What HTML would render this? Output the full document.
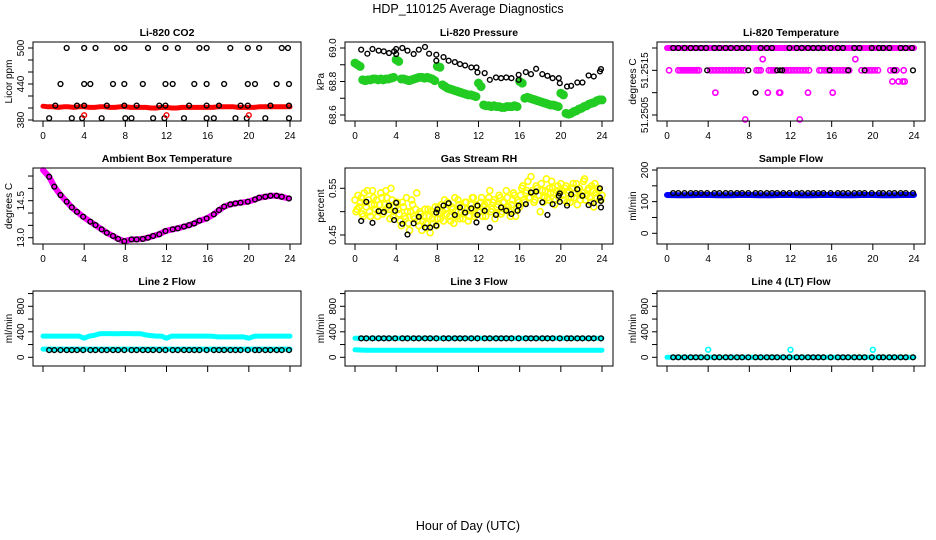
<!DOCTYPE html>
<html><head><meta charset="utf-8"><style>
body{margin:0;background:#fff}
svg{display:block;font-family:"Liberation Sans",Arial,sans-serif}
</style></head><body>
<svg id="c" width="936" height="540" viewBox="0 0 936 540">
<text x="468" y="13" text-anchor="middle" font-size="12.5">HDP_110125  Average Diagnostics</text>
<text x="468" y="530" text-anchor="middle" font-size="12.5">Hour of Day (UTC)</text>
</svg>
<script>
// ---------- data ----------
const blackHours=[0.6,1.1,1.7,2.3,2.8,3.3,3.9,4.6,5.1,5.7,6.2,6.8,7.3,7.9,8.6,9.1,9.7,10.2,10.7,11.3,11.9,12.6,13.1,13.7,14.2,14.7,15.2,15.9,16.6,17.1,17.6,18.2,18.7,19.2,19.9,20.6,21.0,21.6,22.1,22.7,23.2,23.9];
const hourlyHours=[0,1,2,3,4,5,6,7,8,9,10,11,12,13,14,15,16,17,18,19,20,21,22,23,24];
const halfHours=[0,0.5,1,1.5,2,2.5,3,3.5,4,4.5,5,5.5,6,6.5,7,7.5,8,8.5,9,9.5,10,10.5,11,11.5,12,12.5,13,13.5,14,14.5,15,15.5,16,16.5,17,17.5,18,18.5,19,19.5,20,20.5,21,21.5,22,22.5,23,23.5,24];

// CO2
const co2BlkHours=[2.3,4.0,5.1,7.2,7.9,10.2,11.9,13.1,15.2,15.9,18.2,19.9,21.0,23.2,23.8, 1.7,4.0,4.6,6.8,7.9,9.7,11.9,12.6,14.7,15.9,17.6,19.9,20.6,22.7,23.9, 1.2,3.3,4.0,6.2,7.9,9.1,11.3,11.9,14.2,15.9,17.1,19.2,19.9,22.1,23.9, 0.6,2.8,3.8,5.7,8.0,8.6,10.7,11.8,13.7,15.9,16.6,18.7,19.8,21.6,23.9];
const co2BlkVals=[500,500,500,500,500,500,500,500,500,500,500,500,500,500,500, 440,440,440,440,440,440,440,440,440,440,440,440,440,440,440, 404,404,404,404,404,404,404,404,404,404,404,404,404,404,404, 383,383,383,383,383,383,383,383,383,383,383,383,383,383,383];
const co2RedVals=[403,402,402,401,402,402,401,402,402,401,401,402,402,401,401,402,402,401,401,401,401,400,400,401,401,400,400,401,401,401,401,401,401,401,402,402,402,402,401,401,401,401,402,402,402,402,402,402,402];
const co2RedOutHours=[4.0,12.0,20.0];
const co2RedOutVals=[388,388,388];

// Pressure
const presBlkHours=[0.6,1.2,1.7,2.3,2.8,3.3,3.8,4.0,4.0,4.6,5.1,5.7,6.2,6.8,7.2,7.9,7.9,8.6,9.1,9.7,10.2,10.7,11.3,11.8,11.9,12.6,13.1,13.7,14.2,14.7,15.2,15.9,15.9,16.6,17.1,17.6,18.2,18.7,19.2,19.8,19.9,20.6,21.0,21.6,22.1,22.7,23.2,23.8,23.9];
const presBlkVals=[68.99,68.966,68.994,68.984,68.98,68.97,68.98,68.994,68.964,69.0,68.984,68.964,68.99,69.006,68.966,68.96,68.924,68.946,68.924,68.916,68.904,68.896,68.884,68.884,68.854,68.85,68.81,68.824,68.82,68.824,68.82,68.84,68.81,68.856,68.844,68.876,68.844,68.834,68.82,68.82,68.79,68.77,68.774,68.794,68.794,68.836,68.83,68.86,68.874];
const presGreenVals=[68.91,68.90,68.89,68.81,68.805,68.81,68.81,68.815,68.815,68.81,68.815,68.81,68.815,68.815,68.82,68.825,68.93,68.92,68.815,68.815,68.81,68.805,68.81,68.815,68.82,68.825,68.825,68.82,68.825,68.82,68.815,68.805,68.89,68.885,68.78,68.77,68.76,68.755,68.75,68.745,68.74,68.735,68.73,68.725,68.72,68.72,68.715,68.71,68.79,68.77,68.66,68.655,68.655,68.65,68.655,68.65,68.65,68.645,68.645,68.65,68.65,68.65,68.655,68.65,68.80,68.79,68.70,68.705,68.70,68.695,68.69,68.685,68.68,68.675,68.67,68.665,68.66,68.66,68.655,68.65,68.73,68.72,68.61,68.605,68.61,68.62,68.625,68.635,68.64,68.65,68.655,68.665,68.67,68.675,68.685,68.69,68.69];

// Li-820 Temperature
const tempTopVals=[51.252,51.252,51.252,51.252,51.252,51.252,51.252,51.252,51.252,51.252,51.252,51.252,51.252,51.252,51.252,51.252,51.252,51.252,51.252,51.252,51.252,51.252,51.252,51.252,51.252];
const tempMagHours=[0.2,1.1,1.3,1.5,1.7,1.9,2.1,2.3,2.5,2.7,2.9,3.1,4.2,4.5,4.8,5.1,5.4,5.7,6.0,6.3,6.6,6.9,7.2,7.5,8.7,8.9,9.1,9.9,10.1,10.3,10.5,11.4,11.6,11.8,12.0,12.3,12.6,12.9,13.2,13.5,13.8,14.8,15.0,15.3,15.6,15.9,16.2,16.5,16.8,17.1,17.4,17.7,18.9,19.3,19.6,19.9,20.2,20.5,21.7,22.0,22.3,23.0, 9.3,18.3,4.7,9.8,10.9,11.0,13.7,16.1,7.6,12.9,21.9,22.5,22.9,23.1];
const tempMagVals=[51.2515,51.2515,51.2515,51.2515,51.2515,51.2515,51.2515,51.2515,51.2515,51.2515,51.2515,51.2515,51.2515,51.2515,51.2515,51.2515,51.2515,51.2515,51.2515,51.2515,51.2515,51.2515,51.2515,51.2515,51.2515,51.2515,51.2515,51.2515,51.2515,51.2515,51.2515,51.2515,51.2515,51.2515,51.2515,51.2515,51.2515,51.2515,51.2515,51.2515,51.2515,51.2515,51.2515,51.2515,51.2515,51.2515,51.2515,51.2515,51.2515,51.2515,51.2515,51.2515,51.2515,51.2515,51.2515,51.2515,51.2515,51.2515,51.2515,51.2515,51.2515,51.2515, 51.25175,51.25175,51.251,51.251,51.251,51.251,51.251,51.251,51.2504,51.2504,51.25125,51.25125,51.25125,51.25125];
const tempBlkHours=[0.6,1.1,1.7,2.3,2.8,3.3,3.8,4.6,5.1,5.7,6.2,6.8,7.3,7.9,9.1,9.7,10.2,11.9,12.6,13.1,13.7,14.2,14.7,15.2,15.9,16.6,17.1,18.2,18.7,19.9,20.6,21.0,21.6,22.7,23.2,23.8, 3.9,7.9,10.7,11.0,11.2,15.8,17.6,19.2,22.1,23.9,8.6];
const tempBlkVals=[51.252,51.252,51.252,51.252,51.252,51.252,51.252,51.252,51.252,51.252,51.252,51.252,51.252,51.252,51.252,51.252,51.252,51.252,51.252,51.252,51.252,51.252,51.252,51.252,51.252,51.252,51.252,51.252,51.252,51.252,51.252,51.252,51.252,51.252,51.252,51.252, 51.2515,51.2515,51.2515,51.2515,51.2515,51.2515,51.2515,51.2515,51.2515,51.2515,51.251];

// Ambient box temperature
const ambHours=[0,0.6,1.1,1.7,2.3,2.8,3.3,3.9,4.6,5.1,5.7,6.2,6.8,7.3,7.9,8.6,9.1,9.7,10.2,10.7,11.3,11.9,12.6,13.1,13.7,14.2,14.7,15.2,15.9,16.6,17.1,17.6,18.2,18.7,19.2,19.9,20.6,21.0,21.6,22.1,22.7,23.2,23.9];
const ambVals=[15.74,15.47,15.07,14.73,14.46,14.23,14.05,13.85,13.65,13.51,13.34,13.2,13.07,12.95,12.86,12.93,12.93,12.95,13.0,13.07,13.14,13.27,13.34,13.38,13.45,13.51,13.58,13.69,13.78,13.95,14.12,14.26,14.35,14.39,14.42,14.46,14.55,14.62,14.66,14.7,14.7,14.66,14.59];

// Gas stream RH
const rhYellowA=[.525,.505,.51,.53,.49,.52,.545,.50,.515,.53,.505, .49,.515,.53,.50,.545,.51,.485,.525,.50,.52, .505,.48,.52,.49,.53,.475,.50,.515,.485,.54, .47,.495,.48,.505,.465,.49,.50,.475,.51,.485, .495,.515,.48,.505,.52,.49,.51,.475,.50,.525,.485,.51,.495,.52,.48,.505,.53,.49,.515,.50, .52,.49,.515,.505,.53,.50,.52,.485,.51,.535,.495,.52,.505,.53,.50,.515,.54,.49,.525,.51, .55,.525,.54,.565,.53,.545,.52,.555,.535,.50,.545,.53,.57,.525,.54,.55,.515,.545,.53,.56, .535,.55,.52,.545,.53,.56,.54,.515,.55,.535,.565,.525,.545,.53,.555,.51,.54,.55,.525,.535];
const rhYellowB=[.50,.535,.52,.495,.54,.51,.525,.49,.545,.515, .525,.50,.54,.495,.515,.53,.505,.55,.49,.51, .52,.495,.47,.51,.485,.50,.46,.525,.49,.505, .48,.50,.46,.49,.475,.505,.455,.485,.495,.47, .51,.485,.50,.525,.495,.515,.48,.505,.53,.49,.515,.50,.485,.52,.505,.49,.515,.53,.495,.51, .50,.53,.51,.49,.52,.545,.505,.525,.495,.515,.53,.50,.52,.545,.51,.49,.525,.535,.505,.52, .535,.555,.52,.545,.53,.575,.54,.525,.55,.535,.56,.52,.545,.53,.55,.565,.54,.525,.555,.54, .545,.525,.555,.54,.52,.55,.53,.56,.545,.525,.54,.57,.535,.55,.52,.545,.56,.53,.545,.525];
const rhBlkHours=[0.6,1.1,1.7,2.3,2.8,3.3,3.8,3.9,4.0,4.6,5.1,5.7,6.2,6.8,7.3,7.9,7.9,8.0,8.6,9.1,9.7,10.2,10.7,11.3,11.8,11.9,11.9,12.6,13.1,13.7,14.2,14.7,15.2,15.8,15.9,16.6,17.1,17.6,18.2,18.7,19.2,19.8,19.9,19.9,20.6,21.0,21.6,22.1,22.7,23.2,23.8,23.9,23.9,23.8];
const rhBlkVals=[.48,.521,.476,.501,.499,.513,.482,.502,.519,.474,.451,.475,.489,.466,.466,.47,.498,.505,.513,.518,.493,.509,.498,.507,.477,.493,.513,.502,.466,.493,.509,.502,.495,.502,.513,.516,.541,.543,.52,.493,.516,.534,.539,.521,.513,.537,.548,.534,.514,.518,.55,.523,.509,.53];

// Sample flow
const sampleBlueVals=[121,120,120,121,121,120,120,121,121,120,120,121,121,120,120,121,121,120,120,121,121,120,120,121,121];
const sampleBlkVals=[127,127,127,127,127,127,127,127,127,127,127,127,127,127,127,127,127,127,127,127,127,127,127,127,127,127,127,127,127,127,127,127,127,127,127,127,127,127,127,127,127,127];

// Line flows
const line2CyanUpper=[333,333,333,333,333,333,333,333,300,333,345,370,372,372,370,372,372,372,370,370,350,340,333,333,300,333,333,333,333,333,333,333,333,330,320,320,320,320,320,320,300,330,333,333,333,333,333,333,333];
const line2CyanLower=[128,128,128,128,128,128,128,128,128,128,128,128,128,128,128,128,128,128,128,128,128,128,128,128,128];
const line2BlkVals=[113,113,113,113,113,113,113,113,113,113,113,113,113,113,113,113,113,113,113,113,113,113,113,113,113,113,113,113,113,113,113,113,113,113,113,113,113,113,113,113,113,113];
const line3CyanUpper=[300,300,300,300,300,300,300,300,300,300,300,300,300,300,300,300,300,300,300,300,300,300,300,300,300];
const line3CyanLower=[118,112,112,112,112,112,112,112,112,112,112,112,112,112,112,112,112,112,112,112,112,112,112,112,112];
const line3BlkVals=[297,297,297,297,297,297,297,297,297,297,297,297,297,297,297,297,297,297,297,297,297,297,297,297,297,297,297,297,297,297,297,297,297,297,297,297,297,297,297,297,297,297];
const line4CyanVals=[0,0,0,0,0,0,0,0,0,0,0,0,0,0,0,0,0,0,0,0,0,0,0,0,0];
const line4CyanOutHours=[4,12,20];
const line4CyanOutVals=[118,118,118];
const line4BlkVals=[0,0,0,0,0,0,0,0,0,0,0,0,0,0,0,0,0,0,0,0,0,0,0,0,0,0,0,0,0,0,0,0,0,0,0,0,0,0,0,0,0,0];

const quarterHours=[];
for(let i=0;i<=96;i++)quarterHours.push(i/4);
const yellowAHours=rhYellowA.map((v,i)=>i*0.2);
const yellowBHours=rhYellowB.map((v,i)=>0.1+i*0.2);

// ---------- drawing ----------
const NS='http://www.w3.org/2000/svg';
const svg=document.getElementById('c');
function mk(tag,attrs,parent){const e=document.createElementNS(NS,tag);for(const k in attrs)e.setAttribute(k,attrs[k]);(parent||svg).appendChild(e);return e;}
const rowTop=[42,168,291], rowBot=[121,244,366];
function xScale(col){return h=>43+312*col+h*247/24;}
function yScale(v1,p1,v2,p2){return v=>p1+(v-v1)*(p2-p1)/(v2-v1);}

function panel(cfg){
  const g=mk('g',{});
  
  
  const L=33+312*cfg.col, R=301+312*cfg.col, T=rowTop[cfg.row], B=rowBot[cfg.row];
  const xs=xScale(cfg.col), ys=yScale(cfg.ref[0],cfg.ref[1],cfg.ref[2],cfg.ref[3]);
  const t=mk('text',{x:(L+R)/2,y:T-6,'text-anchor':'middle','font-size':'10.5','font-weight':'bold'},g);
  t.textContent=cfg.title;
  
  
  const plot=mk('g',{},g);
  
  
  cfg.draw(plot,xs,ys);
  const box=mk('rect',{x:L,y:T,width:R-L,height:B-T,fill:'none',stroke:'#000','stroke-width':1},g);
  
  
  const xa=mk('g',{},g);
  
  
  const xt=[0,4,8,12,16,20,24];
  xt.forEach(h=>{
    mk('line',{x1:xs(h),x2:xs(h),y1:B,y2:B+6,stroke:'#000'},xa);
    if(cfg.xlabels){const tx=mk('text',{x:xs(h),y:B+18,'text-anchor':'middle','font-size':'10'},xa);tx.textContent=h;}
  });
  const ya=mk('g',{},g);
  
  
  cfg.yticks.forEach(v=>{const y=ys(v);mk('line',{x1:L-5,x2:L,y1:y,y2:y,stroke:'#000'},ya);});
  cfg.ylabels.forEach((v,i)=>{const y=ys(v);const tx=mk('text',{x:0,y:0,'text-anchor':'middle','font-size':'10',transform:`translate(${L-9},${y}) rotate(-90)`},ya);tx.textContent=cfg.ylabelText[i];});
  const yl=mk('text',{x:0,y:0,'text-anchor':'middle','font-size':'10',transform:`translate(${L-21},${(T+B)/2}) rotate(-90)`},g);
  yl.textContent=cfg.ylab;
  
  
}
function dots(p,hs,vs,xs,ys,color,r,fill,sw,name){
  const g=mk('g',{},p);
  
  
  hs.forEach((h,i)=>{mk('circle',{cx:xs(h),cy:ys(vs[i]),r:r,fill:fill?color:'none',stroke:color,'stroke-width':sw},g);});
}
function band(p,hs,vs,xs,ys,color,w,name){
  const pts=hs.map((h,i)=>xs(h).toFixed(1)+','+ys(vs[i]).toFixed(1)).join(' ');
  const pl=mk('polyline',{points:pts,fill:'none',stroke:color,'stroke-width':w,'stroke-linecap':'round','stroke-linejoin':'round'},p);
  
  
}
const BK='#000',BR=2.4,BW=1.4;

panel({name:'co2',col:0,row:0,title:'Li-820 CO2',ylab:'Licor ppm',ref:[500,48,380,120],xlabels:true,
 yticks:[380,400,420,440,460,480,500],ylabels:[380,440,500],ylabelText:['380','440','500'],
 draw:(p,xs,ys)=>{band(p,halfHours,co2RedVals,xs,ys,'#ff0000',5,'co2-red-series');
  dots(p,co2BlkHours,co2BlkVals,xs,ys,BK,BR,false,BW,'co2-black-points');
  dots(p,co2RedOutHours,co2RedOutVals,xs,ys,'#ff0000',BR,false,BW,'co2-red-outliers');}});
panel({name:'pressure',col:1,row:0,title:'Li-820 Pressure',ylab:'kPa',ref:[69.0,48,68.6,115],xlabels:true,
 yticks:[68.6,68.7,68.8,68.9,69.0],ylabels:[68.6,68.8,69.0],ylabelText:['68.6','68.8','69.0'],
 draw:(p,xs,ys)=>{dots(p,quarterHours,presGreenVals,xs,ys,'#22cc22',4,true,1,'pressure-green-series');
  dots(p,presBlkHours,presBlkVals,xs,ys,BK,BR,false,BW,'pressure-black-points');}});
panel({name:'li820-temp',col:2,row:0,title:'Li-820 Temperature',ylab:'degrees C',ref:[51.252,48,51.2505,115],xlabels:true,
 yticks:[51.2505,51.251,51.2515,51.252],ylabels:[51.2505,51.2515],ylabelText:['51.2505','51.2515'],
 draw:(p,xs,ys)=>{band(p,hourlyHours,tempTopVals,xs,ys,'#ff00ff',6,'temp-magenta-top');
  dots(p,tempMagHours,tempMagVals,xs,ys,'#ff00ff',2.6,false,1.6,'temp-magenta-points');
  dots(p,tempBlkHours,tempBlkVals,xs,ys,BK,BR,false,BW,'temp-black-points');}});
panel({name:'ambient-temp',col:0,row:1,title:'Ambient Box Temperature',ylab:'degrees C',ref:[14.5,200.7,13.0,237.7],xlabels:true,
 yticks:[13.0,13.5,14.0,14.5,15.0,15.5],ylabels:[13.0,14.5],ylabelText:['13.0','14.5'],
 draw:(p,xs,ys)=>{band(p,ambHours,ambVals,xs,ys,'#ff00ff',6,'ambient-magenta-series');
  dots(p,ambHours.slice(1),ambVals.slice(1),xs,ys,BK,BR,false,BW,'ambient-black-points');}});
panel({name:'rh',col:1,row:1,title:'Gas Stream RH',ylab:'percent',ref:[0.55,188.3,0.45,235],xlabels:true,
 yticks:[0.45,0.50,0.55],ylabels:[0.45,0.55],ylabelText:['0.45','0.55'],
 draw:(p,xs,ys)=>{dots(p,yellowAHours,rhYellowA,xs,ys,'#ffff00',3,false,1.6,'rh-yellow-a');
  dots(p,yellowBHours,rhYellowB,xs,ys,'#ffff00',3,false,1.6,'rh-yellow-b');
  dots(p,rhBlkHours,rhBlkVals,xs,ys,BK,BR,false,BW,'rh-black-points');}});
panel({name:'sample-flow',col:2,row:1,title:'Sample Flow',ylab:'ml/min',ref:[200,170,0,233.3],xlabels:true,
 yticks:[0,50,100,150,200],ylabels:[0,100,200],ylabelText:['0','100','200'],
 draw:(p,xs,ys)=>{band(p,hourlyHours,sampleBlueVals,xs,ys,'#0000ff',6,'sample-blue-series');
  dots(p,blackHours,sampleBlkVals,xs,ys,BK,BR,false,BW,'sample-black-points');}});
const flowTicks=[0,200,400,600,800,1000];
panel({name:'line2-flow',col:0,row:2,title:'Line 2 Flow',ylab:'ml/min',ref:[800,306.3,0,357.3],xlabels:false,
 yticks:flowTicks,ylabels:[0,400,800],ylabelText:['0','400','800'],
 draw:(p,xs,ys)=>{band(p,halfHours,line2CyanUpper,xs,ys,'#00ffff',5,'line2-cyan-upper');
  band(p,hourlyHours,line2CyanLower,xs,ys,'#00ffff',5,'line2-cyan-lower');
  dots(p,blackHours,line2BlkVals,xs,ys,BK,BR,false,BW,'line2-black-points');}});
panel({name:'line3-flow',col:1,row:2,title:'Line 3 Flow',ylab:'ml/min',ref:[800,306.3,0,357.3],xlabels:false,
 yticks:flowTicks,ylabels:[0,400,800],ylabelText:['0','400','800'],
 draw:(p,xs,ys)=>{band(p,hourlyHours,line3CyanUpper,xs,ys,'#00ffff',5,'line3-cyan-upper');
  band(p,hourlyHours,line3CyanLower,xs,ys,'#00ffff',5,'line3-cyan-lower');
  dots(p,blackHours,line3BlkVals,xs,ys,BK,BR,false,BW,'line3-black-points');}});
panel({name:'line4-flow',col:2,row:2,title:'Line 4 (LT) Flow',ylab:'ml/min',ref:[800,306.3,0,357.3],xlabels:false,
 yticks:flowTicks,ylabels:[0,400,800],ylabelText:['0','400','800'],
 draw:(p,xs,ys)=>{band(p,hourlyHours,line4CyanVals,xs,ys,'#00ffff',5,'line4-cyan-series');
  dots(p,blackHours,line4BlkVals,xs,ys,BK,BR,false,BW,'line4-black-points');
  dots(p,line4CyanOutHours,line4CyanOutVals,xs,ys,'#00ffff',BR,false,1.6,'line4-cyan-outliers');}});
</script>
</body></html>
